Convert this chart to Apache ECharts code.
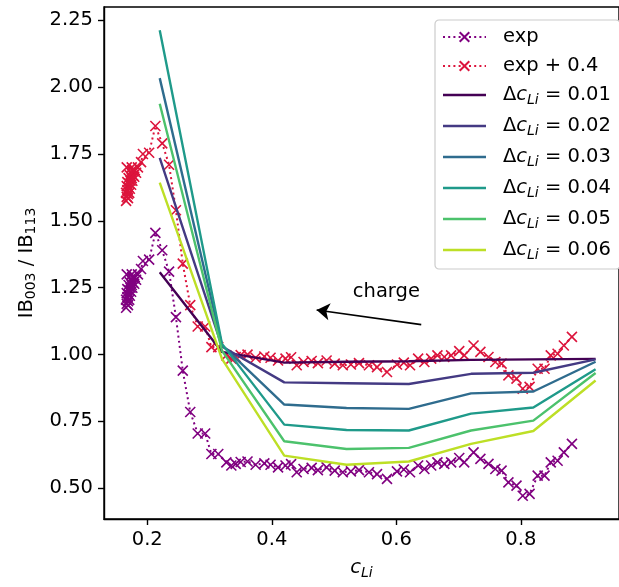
<!DOCTYPE html>
<html>
<head>
<meta charset="utf-8">
<script src="https://cdn.jsdelivr.net/npm/echarts@6/dist/echarts.min.js"></script>
<style>
html,body{margin:0;padding:0;background:#fff;}
#chart{width:619px;height:587px;}
</style>
</head>
<body>
<div id="chart"></div>
<script>
// ---- data ----
const expX = [0.166,0.167,0.166,0.168,0.167,0.169,0.170,0.168,0.171,0.170,0.172,0.173,0.172,0.174,0.175,0.174,0.176,0.177,0.178,0.176,0.179,0.180,0.167,0.175,0.182,0.169,0.171,
  0.185,0.190,0.193,0.203,0.213,0.224,0.235,0.246,0.257,0.269,0.281,0.293,0.303,0.314,0.327,0.335,0.342,0.350,0.361,0.374,0.388,0.398,0.410,0.422,0.431,
  0.440,0.451,0.464,0.474,0.488,0.501,0.514,0.527,0.540,0.556,0.569,0.585,0.601,0.612,0.622,0.635,0.645,0.656,0.666,0.677,0.688,0.701,0.709,
  0.724,0.735,0.748,0.759,0.769,0.780,0.793,0.803,0.814,0.827,0.838,0.848,0.859,0.869,0.882];
const expY = [1.175,1.190,1.205,1.215,1.230,1.200,1.225,1.245,1.240,1.260,1.220,1.250,1.270,1.235,1.260,1.280,1.250,1.270,1.285,1.290,1.265,1.290,1.300,1.300,1.280,1.185,1.205,
  1.300,1.320,1.350,1.355,1.455,1.390,1.310,1.140,0.940,0.785,0.705,0.705,0.628,0.628,0.597,0.585,0.591,0.598,0.600,0.588,0.593,0.588,0.578,0.585,0.590,
  0.560,0.572,0.576,0.568,0.578,0.566,0.560,0.563,0.568,0.560,0.553,0.535,0.563,0.570,0.560,0.585,0.572,0.585,0.597,0.591,0.597,0.613,0.597,
  0.634,0.610,0.591,0.572,0.566,0.522,0.510,0.472,0.479,0.547,0.547,0.597,0.603,0.634,0.666];
const expShiftY = [1.575,1.590,1.605,1.615,1.630,1.600,1.625,1.645,1.640,1.660,1.620,1.650,1.670,1.635,1.660,1.680,1.650,1.670,1.685,1.690,1.665,1.690,1.700,1.700,1.680,1.585,1.605,
  1.700,1.720,1.750,1.755,1.855,1.790,1.710,1.540,1.340,1.185,1.105,1.105,1.028,1.028,0.997,0.985,0.991,0.998,1.000,0.988,0.993,0.988,0.978,0.985,0.990,
  0.960,0.972,0.976,0.968,0.978,0.966,0.960,0.963,0.968,0.960,0.953,0.935,0.963,0.970,0.960,0.985,0.972,0.985,0.997,0.991,0.997,1.013,0.997,
  1.034,1.010,0.991,0.972,0.966,0.922,0.910,0.872,0.879,0.947,0.947,0.997,1.003,1.034,1.066];

const modelX = [0.22,0.32,0.42,0.52,0.62,0.72,0.82,0.92];
const d001 = [1.308,1.010,0.970,0.973,0.975,0.980,0.982,0.984];
const d002 = [1.736,1.030,0.896,0.893,0.890,0.928,0.932,0.982];
const d003 = [2.034,1.035,0.813,0.800,0.797,0.855,0.862,0.973];
const d004 = [2.213,1.040,0.738,0.718,0.716,0.779,0.802,0.945];
const d005 = [1.938,1.015,0.676,0.647,0.651,0.716,0.753,0.931];
const d006 = [1.643,0.984,0.622,0.588,0.600,0.666,0.714,0.903];
const modelNames = ['0.01','0.02','0.03','0.04','0.05','0.06'];
const modelSeries = [d001,d002,d003,d004,d005,d006];

const xTicks = [0.2,0.4,0.6,0.8];
const yTicks = [0.5,0.75,1.0,1.25,1.5,1.75,2.0,2.25];

const arrowFrom = [0.640,1.112];
const arrowTo = [0.472,1.167];
const annotText = 'charge';
const annotPos = [0.584,1.236];

// ---- styles ----
const FONT = 'DejaVu Sans';
const FS = 19.5;
const purple = '#800080';
const crimson = '#dc143c';
const modelColors = ['#440154','#443a83','#2f6c8e','#1f9a8a','#4cc26c','#bddf26'];
const xSym = 'path://M0,0L10,10M10,0L0,10';
const lineIcon = 'path://M0,0L43,0L43,2.7L0,2.7Z';

function zip(xs, ys){ return xs.map((x,i)=>[x, ys[i]]); }

const series = [
  {
    name:'exp', type:'line', data: zip(expX, expY),
    symbol: xSym, symbolSize: 10, showSymbol:true, showAllSymbol:true,
    lineStyle:{color:purple, width:2, type:[2,3.2]},
    itemStyle:{color:purple, borderColor:purple, borderWidth:1.6},
    z:2
  },
  {
    name:'exp + 0.4', type:'line', data: zip(expX, expShiftY),
    symbol: xSym, symbolSize: 10, showSymbol:true, showAllSymbol:true,
    lineStyle:{color:crimson, width:2, type:[2,3.2]},
    itemStyle:{color:crimson, borderColor:crimson, borderWidth:1.6},
    z:2
  }
];
modelSeries.forEach((ys,i)=>{
  series.push({
    name:'Δc_Li = ' + modelNames[i], type:'line', data: zip(modelX, ys),
    symbol:'none', lineStyle:{color:modelColors[i], width:2.4},
    itemStyle:{color:modelColors[i]}, z:3
  });
});
series.push({
  name:'annot', type:'line', data:[], z:4,
  markLine:{
    silent:true, animation:false,
    symbol:['none','arrow'], symbolSize:13,
    label:{show:false},
    lineStyle:{color:'#000', width:1.6, type:'solid'},
    data:[[{coord:arrowFrom},{coord:arrowTo}]]
  },
  markPoint:{
    silent:true, animation:false,
    symbol:'circle', symbolSize:0,
    label:{show:true, position:'inside', formatter:annotText, fontSize:FS, fontFamily:FONT, color:'#000'},
    data:[{coord:annotPos}]
  }
});

const richMath = {
  n:{fontSize:FS, fontFamily:FONT, color:'#000', lineHeight:24},
  i:{fontSize:FS, fontFamily:FONT, fontStyle:'italic', color:'#000', lineHeight:24},
  s:{fontSize:14, fontFamily:FONT, fontStyle:'italic', color:'#000', lineHeight:14, verticalAlign:'bottom'},
  d:{fontSize:14, fontFamily:FONT, color:'#000', lineHeight:14, verticalAlign:'bottom'}
};

const legendData = ['exp','exp + 0.4'].concat(modelNames.map(n=>({name:'Δc_Li = '+n, icon:lineIcon})));

const chart = echarts.init(document.getElementById('chart'), null, {renderer:'canvas'});
chart.setOption({
  animation:false,
  backgroundColor:'#ffffff',
  grid:{left:104, top:7, right:-9, bottom:68, show:true, borderColor:'#000', borderWidth:1.4, backgroundColor:'transparent'},
  xAxis:{
    type:'value', min:0.1305, max:0.9576,
    axisLine:{show:true, onZero:false, lineStyle:{color:'#000', width:1.4}},
    axisTick:{show:true, customValues:xTicks, length:6, lineStyle:{color:'#000', width:1.4}},
    axisLabel:{customValues:xTicks, formatter:v=>v.toFixed(1), fontSize:FS, fontFamily:FONT, color:'#000', margin:11},
    splitLine:{show:false},
    name:'{i|c}{s|Li}', nameLocation:'middle', nameGap:37,
    nameTextStyle:{rich:richMath}
  },
  yAxis:{
    type:'value', min:0.385, max:2.300,
    axisLine:{show:true, onZero:false, lineStyle:{color:'#000', width:1.4}},
    axisTick:{show:true, customValues:yTicks, length:6, lineStyle:{color:'#000', width:1.4}},
    axisLabel:{customValues:yTicks, formatter:v=>v.toFixed(2), fontSize:FS, fontFamily:FONT, color:'#000', margin:11},
    splitLine:{show:false},
    name:'{n|IB}{d|003}{n| / IB}{d|113}', nameLocation:'middle', nameGap:62, nameRotate:90,
    nameTextStyle:{rich:richMath}
  },
  legend:{
    orient:'vertical', left:435, top:20,
    data:legendData,
    itemWidth:43, itemHeight:12, itemGap:9,
    padding:[7,9,7,7],
    backgroundColor:'#ffffff', borderColor:'#cccccc', borderWidth:1.2, borderRadius:4,
    formatter:function(name){
      if(name.indexOf('Δ')===0){ return '{n|Δ}{i|c}{s|Li}{n| = ' + name.split('= ')[1] + '}'; }
      return '{n|' + name + '}';
    },
    textStyle:{fontSize:FS, fontFamily:FONT, color:'#000', padding:[0,0,0,12], rich:richMath}
  },
  series:series
});
</script>
</body>
</html>
